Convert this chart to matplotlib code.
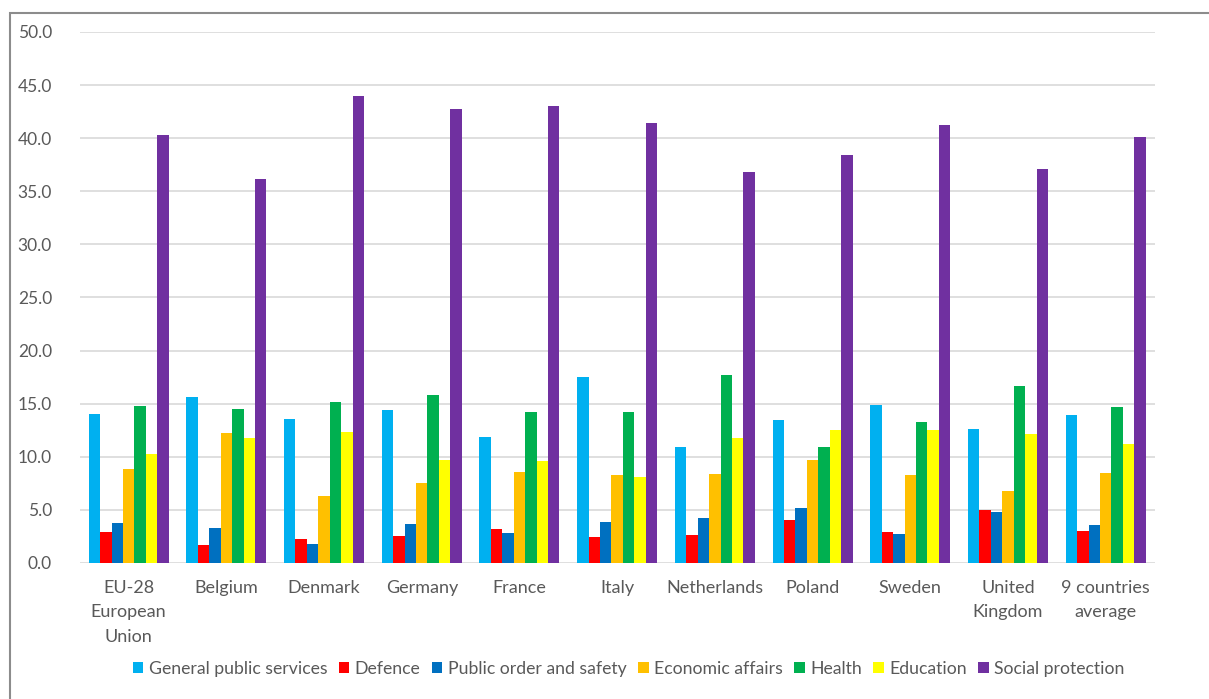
import numpy as np
import matplotlib
matplotlib.use("Agg")
import matplotlib.pyplot as plt
from matplotlib.patches import Rectangle

plt.rcParams['font.family'] = ['Lato', 'DejaVu Sans']

countries = ["EU-28\nEuropean\nUnion", "Belgium", "Denmark", "Germany", "France", "Italy",
             "Netherlands", "Poland", "Sweden", "United\nKingdom", "9 countries\naverage"]

series = ["General public services", "Defence", "Public order and safety",
          "Economic affairs", "Health", "Education", "Social protection"]

general = [14.0, 15.6, 13.6, 14.4, 11.9, 17.5, 10.9, 13.5, 14.9, 12.6, 13.9]
defence = [2.9, 1.7, 2.3, 2.5, 3.2, 2.4, 2.6, 4.05, 2.9, 5.0, 3.0]
public_order = [3.8, 3.3, 1.8, 3.7, 2.8, 3.9, 4.2, 5.2, 2.7, 4.8, 3.55]
economic = [8.85, 12.2, 6.3, 7.5, 8.6, 8.3, 8.35, 9.7, 8.25, 6.8, 8.45]
health = [14.8, 14.5, 15.2, 15.8, 14.2, 14.2, 17.7, 10.9, 13.3, 16.7, 14.7]
education = [10.3, 11.8, 12.3, 9.7, 9.6, 8.1, 11.8, 12.55, 12.55, 12.1, 11.2]
social = [40.3, 36.2, 44.0, 42.7, 43.0, 41.4, 36.8, 38.4, 41.2, 37.1, 40.1]

colors = ["#00B0F0", "#FF0000", "#0070C0", "#FFC000", "#00B050", "#FFFF00", "#7030A0"]
data = [general, defence, public_order, economic, health, education, social]

fig = plt.figure(figsize=(12.09, 6.99), dpi=100)
ax = fig.add_axes([0.066, 0.1946, 0.889, 0.7597])

x = np.arange(len(countries))
w = 0.117
for i, (vals, c, name) in enumerate(zip(data, colors, series)):
    ax.bar(x + (i - 3) * w, vals, w, color=c, label=name, zorder=3)

ax.set_ylim(0, 50)
ax.set_xlim(-0.5, len(countries) - 0.5)
ax.set_yticks(np.arange(0, 51, 5))
ax.set_yticklabels([f"{v:.1f}" for v in np.arange(0, 51, 5)])
ax.set_xticks(x)
ax.set_xticklabels(countries, linespacing=1.65)
ax.yaxis.grid(True, color="#d9d9d9", linewidth=1.2, zorder=0)
ax.tick_params(axis="both", length=0, labelsize=12.5, colors="#595959")
ax.tick_params(axis="x", pad=12, labelsize=13)
ax.tick_params(axis="y", pad=20)
for s in ax.spines.values():
    s.set_visible(False)

fig.legend(loc="center", bbox_to_anchor=(0.52, 0.043), ncol=7, frameon=False,
           fontsize=12.7, handlelength=0.6, handleheight=0.6, handletextpad=0.3,
           columnspacing=0.65, labelcolor="#595959")

fig.patches.append(Rectangle((10 / 1209, -0.1), 1.2, 1.1 - 13 / 699,
                             transform=fig.transFigure, fill=False,
                             edgecolor="#8c8c8c", linewidth=1.5))

fig.savefig("out.png", dpi=100)
